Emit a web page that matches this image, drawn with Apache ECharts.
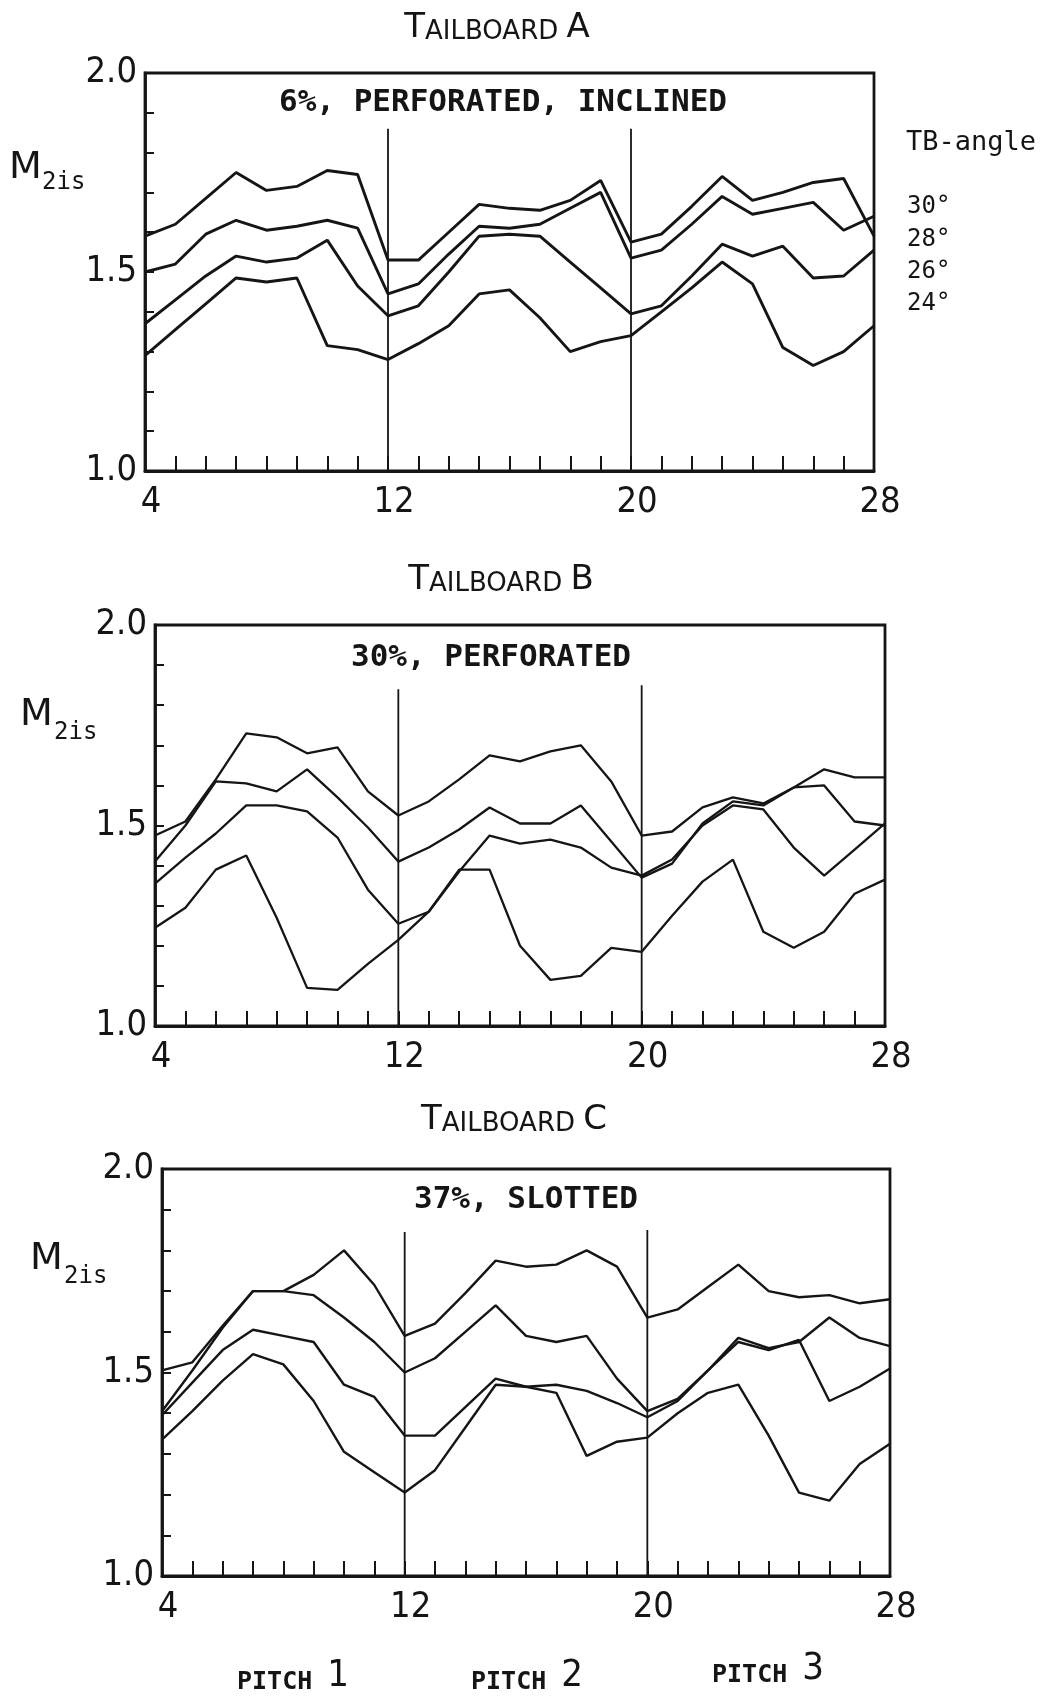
<!DOCTYPE html>
<html><head><meta charset="utf-8">
<script src="https://cdn.jsdelivr.net/npm/echarts@6/dist/echarts.min.js"></script>
<style>html,body{margin:0;padding:0;background:#fff}#c{width:1056px;height:1698px}</style>
</head><body><div id="c"></div>
<script>
// ---- data ----
const pitchX = [4,5,6,7,8,9,10,11,12,13,14,15,16,17,18,19,20,21,22,23,24,25,26,27,28];
const angleNames = ['30°','28°','26°','24°'];
const xTickLabels = [4,12,20,28];
const yTickLabels = ['1.0','1.5','2.0'];
const pitchDividers = [12,20];

const tbA30 = [1.59,1.62,1.685,1.75,1.705,1.715,1.755,1.745,1.53,1.53,1.60,1.67,1.66,1.655,1.68,1.73,1.575,1.595,1.665,1.74,1.68,1.70,1.725,1.735,1.59];
const tbA28 = [1.50,1.52,1.595,1.63,1.605,1.615,1.63,1.61,1.445,1.47,1.545,1.615,1.61,1.62,1.66,1.70,1.535,1.555,1.62,1.69,1.645,1.66,1.675,1.605,1.64];
const tbA26 = [1.37,1.43,1.49,1.54,1.525,1.535,1.58,1.465,1.39,1.415,1.50,1.59,1.595,1.59,1.525,1.46,1.395,1.415,1.49,1.57,1.54,1.565,1.485,1.49,1.555];
const tbA24 = [1.29,1.355,1.42,1.485,1.475,1.485,1.315,1.305,1.28,1.32,1.365,1.445,1.455,1.385,1.30,1.325,1.34,1.40,1.46,1.525,1.47,1.31,1.265,1.30,1.365];

const tbB30 = [1.475,1.51,1.615,1.73,1.72,1.68,1.695,1.585,1.525,1.56,1.615,1.675,1.66,1.685,1.70,1.61,1.475,1.485,1.545,1.57,1.555,1.595,1.64,1.62,1.62];
const tbB28 = [1.41,1.50,1.61,1.605,1.585,1.64,1.57,1.495,1.41,1.445,1.49,1.545,1.505,1.505,1.55,1.46,1.37,1.405,1.505,1.56,1.55,1.595,1.60,1.51,1.50];
const tbB26 = [1.355,1.42,1.48,1.55,1.55,1.535,1.47,1.34,1.255,1.285,1.385,1.475,1.455,1.465,1.445,1.395,1.375,1.415,1.50,1.55,1.54,1.445,1.375,1.44,1.505];
const tbB24 = [1.245,1.295,1.39,1.425,1.27,1.095,1.09,1.155,1.215,1.285,1.39,1.39,1.20,1.115,1.125,1.195,1.185,1.275,1.36,1.415,1.235,1.195,1.235,1.33,1.365];

const tbC30 = [1.505,1.525,1.615,1.70,1.70,1.74,1.80,1.715,1.59,1.62,1.695,1.775,1.76,1.765,1.80,1.76,1.635,1.655,1.71,1.765,1.70,1.685,1.69,1.67,1.68];
const tbC28 = [1.405,1.505,1.61,1.70,1.70,1.69,1.635,1.575,1.50,1.535,1.60,1.665,1.59,1.575,1.59,1.485,1.405,1.435,1.505,1.585,1.56,1.575,1.635,1.585,1.565];
const tbC26 = [1.395,1.475,1.555,1.605,1.59,1.575,1.47,1.44,1.345,1.345,1.415,1.485,1.465,1.47,1.455,1.425,1.39,1.43,1.505,1.575,1.555,1.58,1.43,1.465,1.51];
const tbC24 = [1.335,1.405,1.48,1.545,1.52,1.43,1.305,1.255,1.205,1.26,1.365,1.47,1.465,1.45,1.295,1.33,1.34,1.40,1.45,1.47,1.345,1.205,1.185,1.275,1.325];

const dividerTopA = [1.86,1.86];
const dividerTopB = [1.84,1.85];
const dividerTopC = [1.845,1.85];

// ---- layout / style ----
const INK = '#151515';
const numFont = "'Liberation Sans Narrow','DejaVu Sans Condensed','DejaVu Sans',sans-serif";
const panels = [
  {grid:{left:145, top:73, width:729, height:398}, series:[tbA30,tbA28,tbA26,tbA24], div:dividerTopA, lw:2.9},
  {grid:{left:155, top:625, width:730, height:401}, series:[tbB30,tbB28,tbB26,tbB24], div:dividerTopB, lw:2.3},
  {grid:{left:162, top:1169, width:728, height:407}, series:[tbC30,tbC28,tbC26,tbC24], div:dividerTopC, lw:2.4}
];

const grids = [], xAxes = [], yAxes = [], series = [];
panels.forEach((p, pi) => {
  grids.push(Object.assign({show:true, borderColor:INK, borderWidth:2.8, backgroundColor:'transparent'}, p.grid));
  xAxes.push({
    gridIndex:pi, type:'value', min:4, max:28, interval:1,
    axisLine:{show:true, onZero:false, lineStyle:{color:INK, width:2.8}},
    axisTick:{show:true, inside:true, length:15, lineStyle:{color:INK, width:2}},
    splitLine:{show:false},
    axisLabel:{show:true, margin:14, color:INK, fontSize:36, fontFamily:numFont, padding:[0,0,0,12],
      formatter: v => xTickLabels.includes(v) ? String(v) : ''}
  });
  yAxes.push({
    gridIndex:pi, type:'value', min:1, max:2, interval:0.1,
    axisLine:{show:true, onZero:false, lineStyle:{color:INK, width:2.8}},
    axisTick:{show:true, inside:true, length:9, lineStyle:{color:INK, width:2}},
    splitLine:{show:false},
    axisLabel:{show:true, margin:8, color:INK, fontSize:36, fontFamily:numFont,
      formatter: v => { const s = v.toFixed(1); return yTickLabels.includes(s) ? s : ''; }}
  });
  p.series.forEach((vals, si) => {
    series.push({
      name: angleNames[si], type:'line', xAxisIndex:pi, yAxisIndex:pi,
      data: pitchX.map((x, k) => [x, vals[k]]),
      symbol:'none', silent:true, lineStyle:{color:INK, width:p.lw}, z:3
    });
  });
  pitchDividers.forEach((dx, di) => {
    series.push({
      type:'line', xAxisIndex:pi, yAxisIndex:pi, data:[[dx,1.0],[dx,p.div[di]]],
      symbol:'none', silent:true, lineStyle:{color:INK, width:1.8}, z:2
    });
  });
});

function txt(x, y, text, font, align) {
  return {type:'text', x:x, y:y, silent:true, z:10,
    style:{text:text, font:font, fill:INK, textAlign:align||'center', textVerticalAlign:'middle'}};
}
function richTxt(x, y, text, rich, baseFont) {
  return {type:'text', x:x, y:y, silent:true, z:10,
    style:{text:text, rich:rich, font:baseFont, fill:INK, textAlign:'center', textVerticalAlign:'middle'}};
}
const titleRich = {
  b:{fontSize:34, fontFamily:'DejaVu Sans', fill:INK, verticalAlign:'bottom'},
  s:{fontSize:26, fontFamily:'DejaVu Sans', fill:INK, verticalAlign:'bottom'}
};
const pitchRich = {
  p:{fontSize:25, fontFamily:'DejaVu Sans Mono', fontWeight:'bold', fill:INK, verticalAlign:'bottom'},
  d:{fontSize:38, fontFamily:numFont, fill:INK, verticalAlign:'bottom'}
};
const subFont = "bold 31px 'DejaVu Sans Mono'";
const mFont = "38px 'DejaVu Sans'";
const sFont = "24px 'DejaVu Sans Mono'";
const tFont = "26px 'DejaVu Sans'";

const graphic = [
  richTxt(497, 28, '{b|T}{s|AILBOARD} {b|A}', titleRich, tFont),
  richTxt(501, 580, '{b|T}{s|AILBOARD} {b|B}', titleRich, tFont),
  richTxt(514, 1120, '{b|T}{s|AILBOARD} {b|C}', titleRich, tFont),
  txt(503, 103, '6%, PERFORATED, INCLINED', subFont),
  txt(491, 658, '30%, PERFORATED', subFont),
  txt(526, 1200, '37%, SLOTTED', subFont),
  txt(9, 168, 'M', mFont, 'left'), txt(42, 183, '2is', sFont, 'left'),
  txt(20, 715, 'M', mFont, 'left'), txt(54, 733, '2is', sFont, 'left'),
  txt(30, 1259, 'M', mFont, 'left'), txt(64, 1277, '2is', sFont, 'left'),
  txt(906, 143, 'TB-angle', "27px 'DejaVu Sans Mono'", 'left'),
  txt(907, 207, angleNames[0], "24px 'DejaVu Sans Mono'", 'left'),
  txt(907, 240, angleNames[1], "24px 'DejaVu Sans Mono'", 'left'),
  txt(907, 272, angleNames[2], "24px 'DejaVu Sans Mono'", 'left'),
  txt(907, 304, angleNames[3], "24px 'DejaVu Sans Mono'", 'left'),
  richTxt(293, 1676, '{p|PITCH} {d|1}', pitchRich, "25px 'DejaVu Sans Mono'"),
  richTxt(527, 1676, '{p|PITCH} {d|2}', pitchRich, "25px 'DejaVu Sans Mono'"),
  richTxt(768, 1669, '{p|PITCH} {d|3}', pitchRich, "25px 'DejaVu Sans Mono'")
];

const chart = echarts.init(document.getElementById('c'), null, {renderer:'canvas'});
chart.setOption({
  animation:false, backgroundColor:'#ffffff',
  grid:grids, xAxis:xAxes, yAxis:yAxes, series:series, graphic:graphic
});
</script></body></html>
